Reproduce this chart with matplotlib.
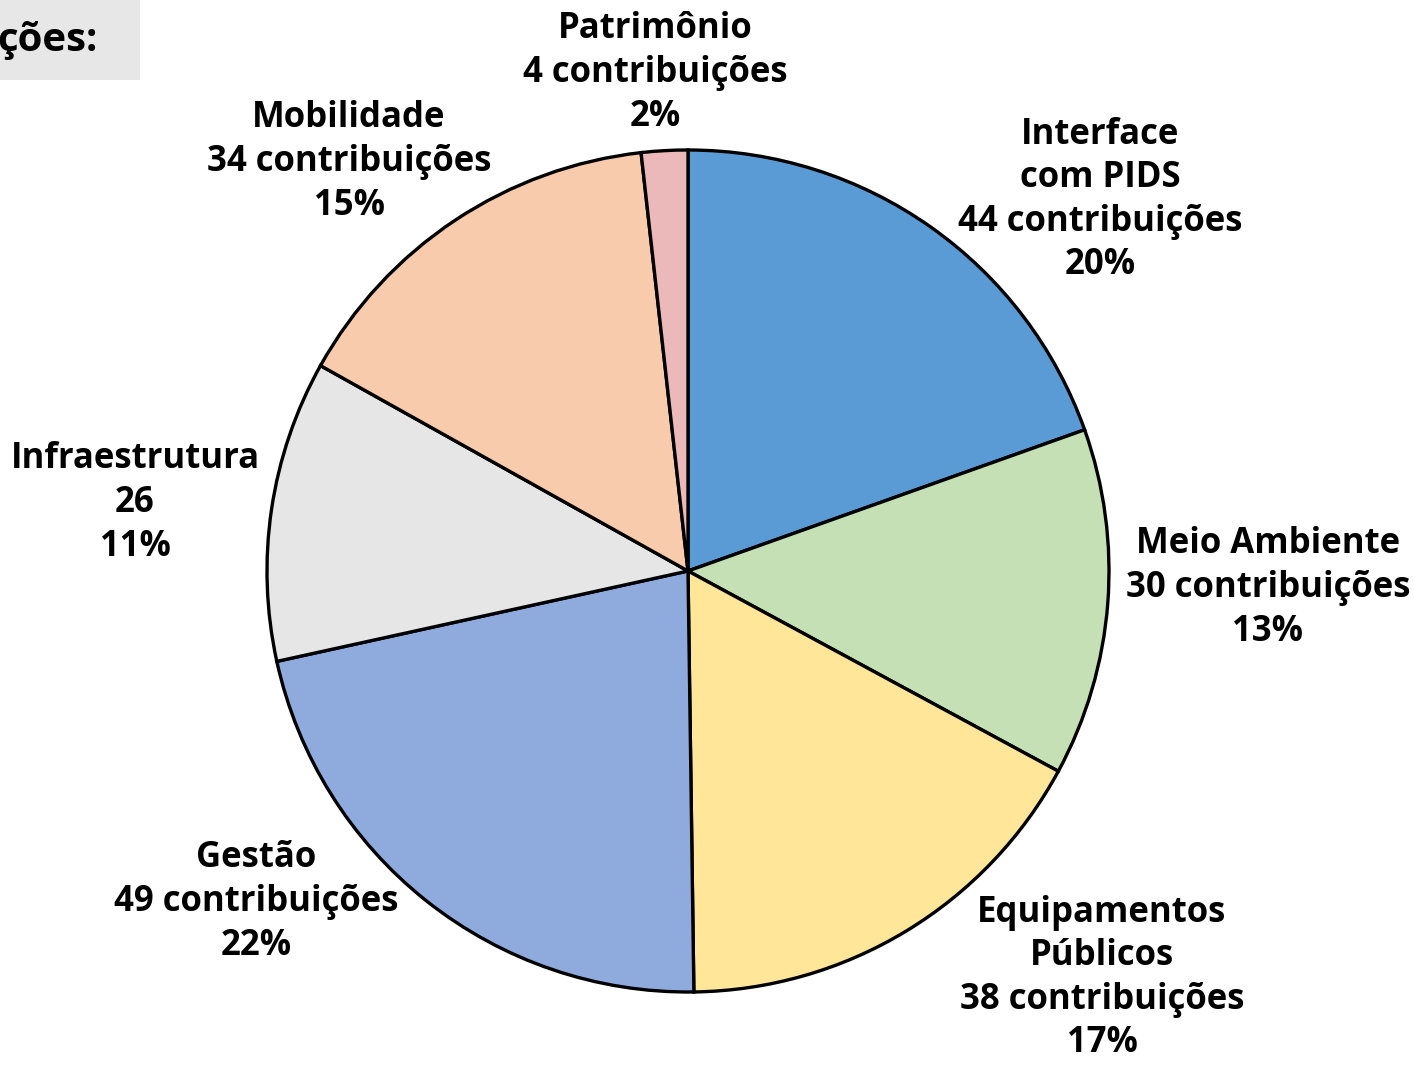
import matplotlib.pyplot as plt
import matplotlib.patches as patches

# slices, clockwise from 12 o'clock
categories = ['Interface\ncom PIDS', 'Meio Ambiente', 'Equipamentos\nPúblicos', 'Gestão',
              'Infraestrutura', 'Mobilidade', 'Patrimônio']
counts = [44, 30, 38, 49, 26, 34, 4]
count_texts = ['44 contribuições', '30 contribuições', '38 contribuições', '49 contribuições',
               '26', '34 contribuições', '4 contribuições']
pct_texts = ['20%', '13%', '17%', '22%', '11%', '15%', '2%']
colors = ['#5B9BD5', '#C5E0B4', '#FFE699', '#8FAADC', '#E6E6E6', '#F8CBAD', '#EBB9B9']

W, H = 1414, 1065
fig = plt.figure(figsize=(W / 100, H / 100), dpi=100)
ax = fig.add_axes([0, 0, 1, 1])

center = (688, H - 571)
radius = 421
ax.pie(counts, colors=colors, startangle=90, counterclock=False,
       center=center, radius=radius, frame=True,
       wedgeprops=dict(edgecolor='black', linewidth=2.4))
ax.set_xlim(0, W)
ax.set_ylim(0, H)
ax.set_aspect('equal')
ax.axis('off')

# label positions (pixel centres, top-down)
label_pos = [(1100, 200), (1268, 588), (1102, 978), (256, 902),
             (135, 503), (349, 162), (655, 73)]
font = dict(family=['Open Sans', 'DejaVu Sans'], weight='bold', size=25)
for cat, cnt, pct, (lx, ly) in zip(categories, count_texts, pct_texts, label_pos):
    ax.text(lx, H - ly, f'{cat}\n{cnt}\n{pct}', ha='center', va='center',
            linespacing=1.28, **font)

# cut-off title box in the corner (text runs off the left edge in the original)
ax.add_patch(patches.Rectangle((0, H - 80), 140, 80, facecolor='#E7E7E7',
                               edgecolor='none', zorder=0))
ax.text(-3, H - 40, 'ções:', ha='left', va='center',
        family=['Open Sans', 'DejaVu Sans'], weight='bold', size=29)

fig.savefig('out.png', dpi=100)
